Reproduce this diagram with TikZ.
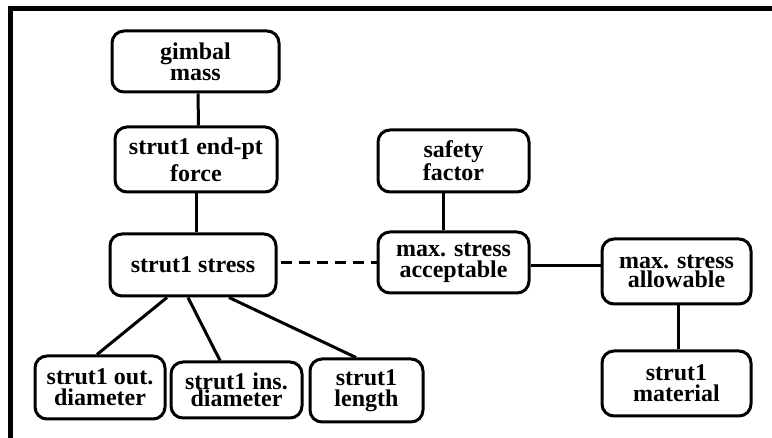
\documentclass[tikz,border=0pt]{standalone}
\usepackage{fontspec}
\setmainfont{Liberation Serif}[BoldFont={Liberation Serif Bold}]
\newfontfamily\tnr{Liberation Serif}[BoldFont={Liberation Serif Bold}]
\begin{document}
\begin{tikzpicture}[x=1pt,y=-1pt,
  box/.style={draw, line width=3pt, rounded corners=12pt, inner sep=0pt,
    align=center, font=\tnr\fontsize{24}{21}\selectfont\bfseries},
  conn/.style={line width=3pt}]
\useasboundingbox (0,0) rectangle (772,438);
\draw[line width=5pt, line join=miter] (10.5,438) -- (10.5,8.5) -- (772,8.5);

\node[box, minimum width=167pt, minimum height=61pt] (gm) at (195.5,61.5) {gimbal\\mass};
\node[box, minimum width=162pt, minimum height=65pt, font=\tnr\fontsize{24}{27}\selectfont\bfseries] (ef) at (196,159.5) {strut1 end-pt\\force};
\node[box, minimum width=166pt, minimum height=62pt] (ss) at (193,265) {strut1 stress};
\node[box, minimum width=130pt, minimum height=63pt] (od) at (100,387.5) {strut1 out.\\diameter};
\node[box, minimum width=131pt, minimum height=56pt, font=\tnr\fontsize{24}{17}\selectfont\bfseries] (id) at (236.5,390) {strut1 ins.\\diameter};
\node[box, minimum width=113pt, minimum height=63pt] (len) at (366.5,390.5) {strut1\\length};
\node[box, minimum width=151pt, minimum height=62pt] (sf) at (453.5,161) {safety\\factor};
\node[box, minimum width=151pt, minimum height=61pt] (ma) at (453.5,262.5) {max. stress\\acceptable};
\node[box, minimum width=149pt, minimum height=65pt, font=\tnr\fontsize{24}{19}\selectfont\bfseries] (mal) at (676.5,271.5) {max. stress\\allowable};
\node[box, minimum width=149pt, minimum height=65pt] (mat) at (676.5,383.5) {strut1\\material};

\draw[conn] ([xshift=2.5pt]gm.south) -- ([xshift=2.5pt]ef.north);
\draw[conn] (ef.south) -- (ef.south |- ss.north);
\draw[conn] ([xshift=-26pt]ss.south) -- ([xshift=-3pt]od.north);
\draw[conn] ([xshift=-5pt]ss.south) -- ([xshift=-16.5pt]id.north);
\draw[conn] ([xshift=36pt]ss.south) -- ([xshift=-10.5pt]len.north);
\draw[conn, dash pattern=on 11pt off 7pt] ([xshift=3pt]ma.west -| ss.east) -- (ma.west);
\draw[conn] ([xshift=-10.5pt]sf.south) -- ([xshift=-10.5pt]ma.north);
\draw[conn] ([yshift=-3.5pt]ma.east) -- ([yshift=-3.5pt]ma.east -| mal.west);
\draw[conn] ([xshift=1.5pt]mal.south) -- ([xshift=1.5pt]mat.north);
\end{tikzpicture}
\end{document}
